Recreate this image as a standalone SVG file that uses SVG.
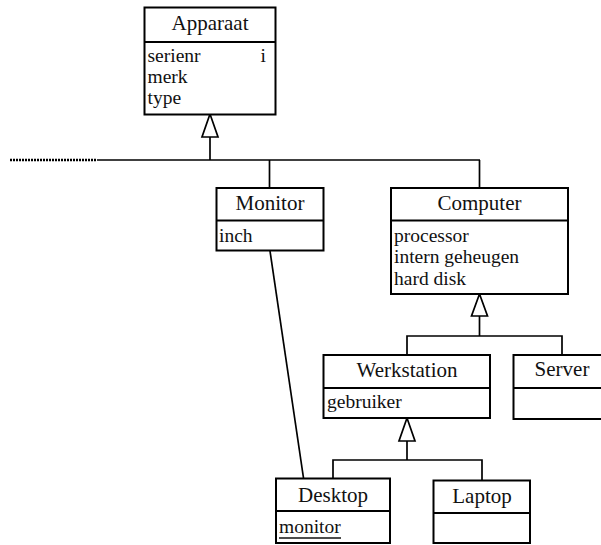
<svg xmlns="http://www.w3.org/2000/svg" width="601" height="545" viewBox="0 0 601 545">
  <style>
    .box { fill: #fff; stroke: #000; stroke-width: 2; }
    .div { stroke: #000; stroke-width: 2; }
    .ln { fill: none; stroke: #000; stroke-width: 1.7; }
    .tri { fill: #fff; stroke: #000; stroke-width: 1.7; stroke-linejoin: miter; }
    .title { font-size: 21px; text-anchor: middle; fill: #111; }
    .attr { font-size: 19.5px; fill: #111; }
  </style>

  <g id="connectors">
    <!-- generalisation: Apparaat -->
    <polyline class="ln" points="97,160 480,160"/>
    <line x1="10" y1="160" x2="97" y2="160" stroke="#000" stroke-width="2.4" stroke-dasharray="2 1"/>
    <line class="ln" x1="210" y1="137" x2="210" y2="160"/>
    <line class="ln" x1="269.5" y1="160" x2="269.5" y2="188"/>
    <line class="ln" x1="479.5" y1="160" x2="479.5" y2="188"/>
    <polygon class="tri" points="210,114 202,137 218,137"/>
    <!-- generalisation: Computer -->
    <line class="ln" x1="479.5" y1="316" x2="479.5" y2="336"/>
    <polyline class="ln" points="407,355 407,336 562,336 562,355"/>
    <polygon class="tri" points="479.5,294 471.5,316 487.5,316"/>
    <!-- generalisation: Werkstation -->
    <line class="ln" x1="407" y1="441" x2="407" y2="460"/>
    <polyline class="ln" points="333,478 333,460 482,460 482,480"/>
    <polygon class="tri" points="407,418 399,441 415,441"/>
    <!-- association Monitor - Desktop -->
    <line class="ln" x1="270" y1="251" x2="303.5" y2="478"/>
  </g>

  <g font-family="Liberation Serif, Times New Roman, serif">
  <g id="apparaat">
    <rect class="box" x="144.5" y="7.5" width="131" height="107"/>
    <line class="div" x1="144.5" y1="42" x2="275.5" y2="42"/>
    <text class="title" x="210" y="30">Apparaat</text>
    <text class="attr" x="147.5" y="62">serienr</text>
    <text class="attr" x="260.5" y="62">i</text>
    <text class="attr" x="147.5" y="83">merk</text>
    <text class="attr" x="147.5" y="104">type</text>
  </g>

  <g id="monitor">
    <rect class="box" x="216.5" y="188" width="107" height="62.5"/>
    <line class="div" x1="216.5" y1="220.5" x2="323.5" y2="220.5"/>
    <text class="title" x="270" y="210">Monitor</text>
    <text class="attr" x="219" y="241.5">inch</text>
  </g>

  <g id="computer">
    <rect class="box" x="391" y="188" width="177" height="106"/>
    <line class="div" x1="391" y1="220.5" x2="568" y2="220.5"/>
    <text class="title" x="479.5" y="210">Computer</text>
    <text class="attr" x="394" y="241.5">processor</text>
    <text class="attr" x="394" y="263">intern geheugen</text>
    <text class="attr" x="394" y="284.5">hard disk</text>
  </g>

  <g id="werkstation">
    <rect class="box" x="323.5" y="355" width="166.5" height="63"/>
    <line class="div" x1="323.5" y1="388" x2="490" y2="388"/>
    <text class="title" x="407" y="377">Werkstation</text>
    <text class="attr" x="327" y="408">gebruiker</text>
  </g>

  <g id="server">
    <rect class="box" x="513.5" y="355" width="97" height="64"/>
    <line class="div" x1="513.5" y1="388" x2="610.5" y2="388"/>
    <text class="title" x="562" y="376">Server</text>
  </g>

  <g id="desktop">
    <rect class="box" x="276" y="478.5" width="114" height="64.5"/>
    <line class="div" x1="276" y1="511" x2="390" y2="511"/>
    <text class="title" x="333" y="501.5">Desktop</text>
    <text class="attr" x="279" y="533">monitor</text>
    <line x1="279" y1="538" x2="341" y2="538" stroke="#111" stroke-width="1.3"/>
  </g>

  <g id="laptop">
    <rect class="box" x="433.5" y="480.5" width="96.5" height="62.5"/>
    <line class="div" x1="433.5" y1="513" x2="530" y2="513"/>
    <text class="title" x="482" y="503">Laptop</text>
  </g>
  </g>
</svg>
